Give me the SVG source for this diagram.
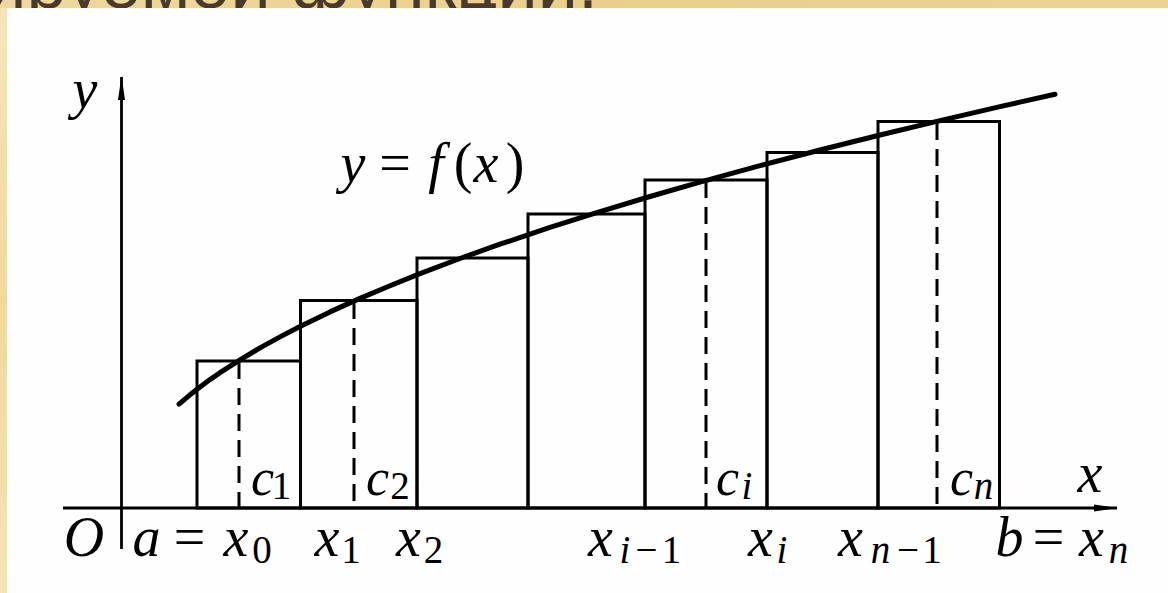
<svg xmlns="http://www.w3.org/2000/svg" width="1168" height="593" viewBox="0 0 1168 593">
<defs>
<linearGradient id="gTop" x1="0" y1="0" x2="1" y2="0">
<stop offset="0" stop-color="#eed9a0"/>
<stop offset="0.5" stop-color="#e9cf8b"/>
<stop offset="1" stop-color="#ebd394"/>
</linearGradient>
<linearGradient id="gLeft" x1="0" y1="0" x2="0" y2="1">
<stop offset="0" stop-color="#f5e6bb"/>
<stop offset="0.5" stop-color="#efd99a"/>
<stop offset="1" stop-color="#f4e4b5"/>
</linearGradient>
<marker id="arr" viewBox="0 0 24 10" refX="23" refY="5" markerWidth="24" markerHeight="10" markerUnits="userSpaceOnUse" orient="auto">
<path d="M0,1.5 L24,5 L0,8.5 Z" fill="#000"/>
</marker>
<style>
.ln{fill:none;stroke:#000;stroke-width:2.8}
.bar{fill:none;stroke:#000;stroke-width:3}
.dash{fill:none;stroke:#000;stroke-width:3;stroke-dasharray:17 9}
.crv{fill:none;stroke:#000;stroke-width:5;stroke-linecap:round;stroke-linejoin:round}
.m{font-family:'Liberation Serif','Times New Roman',serif;font-style:italic;font-size:56px;fill:#000;text-anchor:middle}
.c{font-size:52px}
.s{font-size:39px}
.u{font-style:normal}
.title{font-family:'Liberation Sans',Arial,sans-serif;font-size:72px;fill:#4b3a2c;text-anchor:end}
</style>
</defs>

<g id="background">
<rect x="0" y="0" width="1168" height="593" fill="url(#gLeft)"/>
<rect x="0" y="0" width="1168" height="8" fill="url(#gTop)"/>
<text class="title" x="598" y="8">ируемой функции.</text>
<rect x="7" y="8" width="1161" height="585" fill="#fefefe"/>
</g>

<g id="bars">
<rect class="bar" x="197" y="361" width="103.5" height="147"/>
<rect class="bar" x="300.5" y="300.5" width="116.5" height="207.5"/>
<rect class="bar" x="417" y="258" width="111" height="250"/>
<rect class="bar" x="528" y="214" width="117" height="294"/>
<rect class="bar" x="645" y="180" width="122" height="328"/>
<rect class="bar" x="767" y="152.5" width="111" height="355.5"/>
<rect class="bar" x="878" y="121.5" width="121.5" height="386.5"/>
</g>

<g id="connectors">
<line class="ln" x1="63" y1="508" x2="1117" y2="508" marker-end="url(#arr)"/>
<line class="ln" x1="121.5" y1="549" x2="121.5" y2="77" marker-end="url(#arr)"/>
<line class="dash" x1="239" y1="362" x2="239" y2="508"/>
<line class="dash" x1="354" y1="302" x2="354" y2="508"/>
<line class="dash" x1="706" y1="181" x2="706" y2="508"/>
<line class="dash" x1="937" y1="123" x2="937" y2="508"/>
</g>

<g id="curve">
<polyline class="crv" points="179,404.1 190,394.8 200,387 210,379.6 220,372.7 240,359.8 260,347.9 280,336.9 300,326.5 330,311.9 360,298.4 390,285.7 420,273.6 460,258.5 500,244.2 550,227.4 600,211.6 650,196.5 700,182.2 760,165.7 820,150 880,135 940,120.6 1000,106.6 1055,94.3"/>
</g>

<g id="labels">
<text class="m" y="108"><tspan x="85">y</tspan></text>
<text class="m" y="492"><tspan x="1090">x</tspan></text>
<text class="m" y="182"><tspan x="353">y</tspan><tspan class="u" x="395">=</tspan><tspan x="436">f</tspan><tspan class="u" x="463">(</tspan><tspan x="486">x</tspan><tspan class="u" x="515">)</tspan></text>
<text class="m c" y="495"><tspan x="262.5">c</tspan><tspan class="u s" x="281.5" dy="4">1</tspan></text>
<text class="m c" y="495"><tspan x="377.5">c</tspan><tspan class="u s" x="400" dy="4">2</tspan></text>
<text class="m c" y="495"><tspan x="727.5">c</tspan><tspan class="s" x="747" dy="4">i</tspan></text>
<text class="m c" y="495"><tspan x="961.5">c</tspan><tspan class="s" x="983.5" dy="4">n</tspan></text>
<text class="m" y="556"><tspan x="84">O</tspan></text>
<text class="m" y="556"><tspan x="146.5">a</tspan><tspan class="u" x="189.5">=</tspan><tspan x="236">x</tspan><tspan class="u s" x="262" dy="7">0</tspan></text>
<text class="m" y="556"><tspan x="327">x</tspan><tspan class="u s" x="351" dy="7">1</tspan></text>
<text class="m" y="556"><tspan x="408.5">x</tspan><tspan class="u s" x="433.5" dy="7">2</tspan></text>
<text class="m" y="556"><tspan x="600.5">x</tspan><tspan class="s" x="625" dy="7">i</tspan><tspan class="u s" x="646.5">−</tspan><tspan class="u s" x="671.5">1</tspan></text>
<text class="m" y="556"><tspan x="760.5">x</tspan><tspan class="s" x="782" dy="7">i</tspan></text>
<text class="m" y="556"><tspan x="850.5">x</tspan><tspan class="s" x="880.5" dy="7">n</tspan><tspan class="u s" x="908">−</tspan><tspan class="u s" x="932">1</tspan></text>
<text class="m" y="556"><tspan x="1009.5">b</tspan><tspan class="u" x="1048.5">=</tspan><tspan x="1091.5">x</tspan><tspan class="s" x="1118.5" dy="7">n</tspan></text>
</g>
</svg>
